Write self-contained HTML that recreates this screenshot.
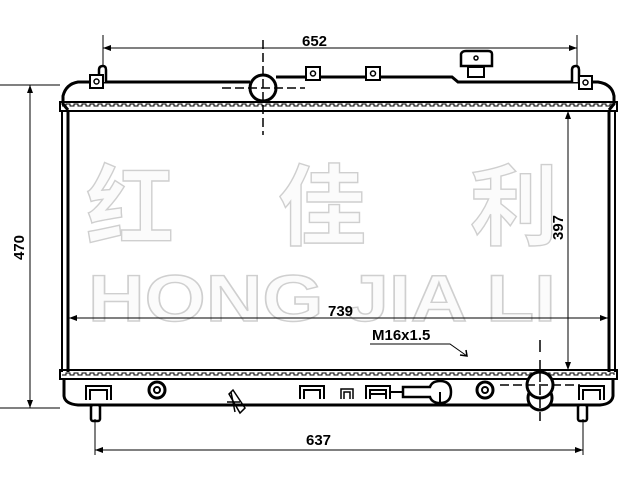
<!DOCTYPE html>
<html><head><meta charset="utf-8"><style>
html,body{margin:0;padding:0;background:#fff;width:640px;height:480px;overflow:hidden}
svg{display:block}
.d{font-family:"Liberation Sans",sans-serif;font-weight:bold;font-size:15px;fill:#000}
.wm{font-family:"Liberation Sans","Noto Sans CJK SC",sans-serif;font-weight:bold;fill:#fbfbfb;stroke:#cfcfcf;stroke-width:1.4}
</style></head><body>
<svg width="640" height="480" viewBox="0 0 640 480" xmlns="http://www.w3.org/2000/svg">
<defs>
<marker id="a" markerWidth="8" markerHeight="6" refX="8" refY="3" orient="auto-start-reverse" markerUnits="userSpaceOnUse"><path d="M0,0 L8,3 L0,6z" fill="#000"/></marker>
<clipPath id="c"><rect x="61" y="0" width="555" height="480"/></clipPath>
<path id="ser" d="M0,0 h4 v-2 h4 v2 h4 v-2 h4 v2 h4 v-2 h4 v2 h4 v-2 h4 v2 h4 v-2 h4 v2 h4 v-2 h4 v2 h4 v-2 h4 v2 h4 v-2 h4 v2 h4 v-2 h4 v2 h4 v-2 h4 v2 h4 v-2 h4 v2 h4 v-2 h4 v2 h4 v-2 h4 v2 h4 v-2 h4 v2 h4 v-2 h4 v2 h4 v-2 h4 v2 h4 v-2 h4 v2 h4 v-2 h4 v2 h4 v-2 h4 v2 h4 v-2 h4 v2 h4 v-2 h4 v2 h4 v-2 h4 v2 h4 v-2 h4 v2 h4 v-2 h4 v2 h4 v-2 h4 v2 h4 v-2 h4 v2 h4 v-2 h4 v2 h4 v-2 h4 v2 h4 v-2 h4 v2 h4 v-2 h4 v2 h4 v-2 h4 v2 h4 v-2 h4 v2 h4 v-2 h4 v2 h4 v-2 h4 v2 h4 v-2 h4 v2 h4 v-2 h4 v2 h4 v-2 h4 v2 h4 v-2 h4 v2 h4 v-2 h4 v2 h4 v-2 h4 v2 h4 v-2 h4 v2 h4 v-2 h4 v2 h4 v-2 h4 v2 h4 v-2 h4 v2 h4 v-2 h4 v2 h4 v-2 h4 v2 h4 v-2 h4 v2 h4 v-2 h4 v2 h4 v-2 h4 v2 h4 v-2 h4 v2 h4 v-2 h4 v2 h4 v-2 h4 v2 h4 v-2 h4 v2 h4 v-2 h4 v2 h4 v-2 h4 v2 h4 v-2 h4 v2 h4 v-2 h4 v2 h4 v-2 h4 v2 h4 v-2 h4 v2 h4 v-2 h4 v2 h4 v-2 h4 v2 h4 v-2 h4 v2 h4 v-2 h4 v2 h4 v-2 h4 v2 h4 v-2 h4 v2 h4 v-2 h4 v2 h4 v-2 h4 v2 h4 v-2 h4 v2 h4 v-2 h4 v2"/>
</defs>
<text class="wm" x="86" y="238" font-size="88" textLength="472" lengthAdjust="spacing">红 佳 利</text>
<text class="wm" x="88" y="321" font-size="66" textLength="468" lengthAdjust="spacingAndGlyphs">HONG JIA LI</text>

<g stroke="#000" fill="none">
<line x1="103" y1="35" x2="103" y2="72" stroke-width="1"/>
<line x1="577" y1="35" x2="577" y2="72" stroke-width="1"/>
<line x1="103" y1="48" x2="577" y2="48" stroke-width="1" marker-start="url(#a)" marker-end="url(#a)"/>
<line x1="0" y1="85" x2="60" y2="85" stroke-width="1"/>
<line x1="0" y1="408" x2="60" y2="408" stroke-width="1"/>
<line x1="30" y1="85" x2="30" y2="408" stroke-width="1" marker-start="url(#a)" marker-end="url(#a)"/>
<path d="M68,110 L63,104 L63,96 Q66,84 78,82 L250,82 M276,77 L452,77 L458,82 L598,82 Q612,84 614,96 L614,104 L609,110" stroke-width="3"/>
<rect x="60" y="102" width="557" height="9" stroke-width="2"/>
<g clip-path="url(#c)"><use href="#ser" x="62" y="106" stroke-width="1"/><use href="#ser" x="62" y="375" stroke-width="1"/></g>
<path d="M99,82 V70 Q99,66 103,66 Q106,66 106,70 V82" stroke-width="2.5" fill="#fff"/>
<rect x="90" y="75" width="13" height="13" stroke-width="2" fill="#fff"/><circle cx="96.5" cy="81.5" r="2.5" stroke-width="1.5"/>
<path d="M572,82 V70 Q572,66 576,66 Q579,66 579,70 V82" stroke-width="2.5" fill="#fff"/>
<rect x="579" y="76" width="13" height="13" stroke-width="2" fill="#fff"/><circle cx="585.5" cy="82.5" r="2.5" stroke-width="1.5"/>
<rect x="306" y="67" width="14" height="13" stroke-width="2" fill="#fff"/><circle cx="313" cy="73.5" r="2.5" stroke-width="1.5"/>
<rect x="366" y="67" width="14" height="13" stroke-width="2" fill="#fff"/><circle cx="373" cy="73.5" r="2.5" stroke-width="1.5"/>
<rect x="468" y="67" width="16" height="10" stroke-width="2"/>
<path d="M461,66 L461,54 Q462,51 466,51 L488,51 Q492,51 492,54 L492,66 Z" stroke-width="2.5" fill="#fff"/>
<circle cx="476" cy="58" r="2" stroke-width="1.5"/>
<circle cx="263" cy="88" r="13" stroke-width="3" fill="#fff"/>
<line x1="263" y1="40" x2="263" y2="135" stroke-width="1.5" stroke-dasharray="9,4"/>
<line x1="222" y1="88" x2="305" y2="88" stroke-width="1.5" stroke-dasharray="9,4"/>
<line x1="62" y1="111" x2="62" y2="372" stroke-width="2"/>
<line x1="68" y1="111" x2="68" y2="372" stroke-width="3"/>
<line x1="609" y1="111" x2="609" y2="372" stroke-width="3"/>
<line x1="615" y1="111" x2="615" y2="372" stroke-width="2"/>
<line x1="568" y1="111" x2="568" y2="370" stroke-width="1" marker-start="url(#a)" marker-end="url(#a)"/>
<line x1="69" y1="318" x2="608" y2="318" stroke-width="1" marker-start="url(#a)" marker-end="url(#a)"/>
<path d="M370,344 L450,344 L467,356" stroke-width="1"/>
<path d="M460,355 L467,356 L466,350" stroke-width="1.5"/>
<line x1="540" y1="340" x2="540" y2="352" stroke-width="1.5"/>
<rect x="60" y="370" width="557" height="9" stroke-width="2"/>
<path d="M64,379 V396 Q65,404 78,405 L600,405 Q612,404 613,396 V379" stroke-width="3"/>
<rect x="91" y="405" width="9" height="16" rx="2" stroke-width="2.5" fill="#fff"/>
<rect x="578" y="405" width="9" height="16" rx="2" stroke-width="2.5" fill="#fff"/>
<path d="M86,400 V386 H111 V400 M90,400 V390 H107 V400" stroke-width="2"/>
<path d="M579,400 V386 H604 V400 M583,400 V390 H600 V400" stroke-width="2"/>
<circle cx="157" cy="390" r="8" stroke-width="3"/><circle cx="157" cy="390" r="3" stroke-width="2"/>
<circle cx="485" cy="390" r="8" stroke-width="3"/><circle cx="485" cy="390" r="3" stroke-width="2"/>
<path d="M300,399 V386 H324 V399 M304,399 V390 H320 V399" stroke-width="2"/>
<path d="M341,399 V389 H353 V399 M344,399 V392 H350 V399" stroke-width="1.5"/>
<path d="M366,399 V386 H390 V399 M370,399 V390 H386 V399 M370,394 H386" stroke-width="2"/>
<line x1="390" y1="392" x2="402" y2="392" stroke-width="2"/>
<path d="M403,387 H430 Q432,381 440,381 Q451,381 451,392 Q451,403 440,403 Q432,403 430,397 H403 Z" stroke-width="2.5" fill="#fff"/>
<line x1="440" y1="392" x2="440" y2="404" stroke-width="2"/>
<path d="M229,394 L233,390 L245,408 L240,413 Z" stroke-width="1.5"/>
<line x1="227" y1="402" x2="240" y2="402" stroke-width="1.5"/>
<line x1="231" y1="392" x2="235" y2="412" stroke-width="1.5"/>
<circle cx="540" cy="398" r="12" stroke-width="3" fill="#fff"/>
<circle cx="540" cy="385" r="13" stroke-width="3" fill="#fff"/>
<line x1="540" y1="360" x2="540" y2="422" stroke-width="1.5" stroke-dasharray="9,4"/>
<line x1="500" y1="385" x2="580" y2="385" stroke-width="1.5" stroke-dasharray="9,4"/>
<line x1="95" y1="419" x2="95" y2="455" stroke-width="1"/>
<line x1="583" y1="419" x2="583" y2="455" stroke-width="1"/>
<line x1="95" y1="450" x2="583" y2="450" stroke-width="1" marker-start="url(#a)" marker-end="url(#a)"/>
</g>
<text class="d" x="302" y="46">652</text>
<text class="d" x="306" y="445">637</text>
<text class="d" x="328" y="316">739</text>
<text class="d" x="372" y="340" font-size="14">M16x1.5</text>
<text class="d" transform="translate(24,260) rotate(-90)">470</text>
<text class="d" transform="translate(563,240) rotate(-90)">397</text>
</svg>
</body></html>
